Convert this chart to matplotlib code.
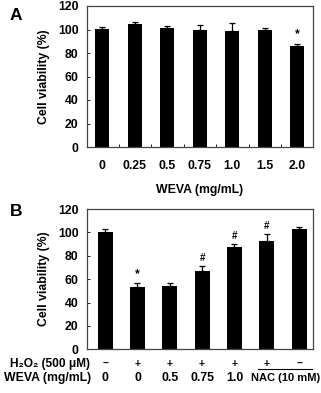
import matplotlib
matplotlib.use("Agg")
import matplotlib.pyplot as plt
from matplotlib.transforms import blended_transform_factory
import numpy as np

plt.rcParams['font.family'] = ['Liberation Sans', 'DejaVu Sans']
plt.rcParams['font.weight'] = 'bold'
plt.rcParams['mathtext.fontset'] = 'custom'
plt.rcParams['mathtext.rm'] = 'Liberation Sans:bold'
plt.rcParams['mathtext.default'] = 'rm'

# Panel A data
a_labels = ["0", "0.25", "0.5", "0.75", "1.0", "1.5", "2.0"]
a_values = [100.2, 105.0, 101.3, 99.8, 99.0, 99.3, 86.0]
a_errors = [1.7, 1.4, 2.0, 4.0, 6.3, 2.0, 2.0]
a_marks = ["", "", "", "", "", "", "*"]

# Panel B data
b_values = [100.6, 53.5, 54.4, 67.3, 87.8, 92.9, 102.6]
b_errors = [2.0, 3.0, 2.0, 4.2, 2.0, 5.7, 1.7]
b_marks = ["", "*", "", "#", "#", "#", ""]
b_h2o2 = ["\u2013", "+", "+", "+", "+", "+", "\u2013"]
b_weva = ["0", "0", "0.5", "0.75", "1.0"]
b_nac = "NAC (10 mM)"

yticks = [0, 20, 40, 60, 80, 100, 120]

FS = 8.8
W, H = 321, 393
fig = plt.figure(figsize=(W / 100, H / 100), dpi=100)

def px_axes(left, top, right, bottom):
    return fig.add_axes([left / W, 1 - bottom / H, (right - left) / W, (bottom - top) / H])

def style(ax):
    ax.set_ylim(0, 120)
    ax.set_yticks(yticks)
    ax.set_yticklabels([str(t) for t in yticks], fontsize=FS, fontweight='bold')
    for s in ax.spines.values():
        s.set_color('#444444')
        s.set_linewidth(0.9)
    ax.tick_params(axis='y', direction='in', length=2, width=0.6, pad=6)
    ax.set_ylabel("Cell viability (%)", fontsize=FS, fontweight='bold', labelpad=6)

# Panel A
axA = px_axes(87, 6, 313, 147)
xa = np.arange(len(a_values))
axA.bar(xa, a_values, width=0.43, color='black')
axA.errorbar(xa, a_values, yerr=[np.zeros(len(a_errors)), a_errors], fmt='none',
             ecolor='black', elinewidth=0.9, capsize=2, capthick=0.9)
for x, v, e, m in zip(xa, a_values, a_errors, a_marks):
    if m:
        axA.text(x, v + e + 3, m, ha='center', va='bottom', fontsize=FS, fontweight='bold')
axA.set_xlim(-0.47, 6.48)
axA.set_xticks(xa)
axA.set_xticklabels(a_labels, fontsize=FS, fontweight='bold')
axA.set_xticks(xa[:-1] + 0.5, minor=True)
axA.tick_params(axis='x', which='major', length=0, pad=9)
axA.tick_params(axis='x', which='minor', direction='in', length=2, width=0.6)
axA.set_xlabel("WEVA (mg/mL)", fontsize=FS, fontweight='bold', labelpad=9)
style(axA)
fig.text(10 / W, 1 - 15 / H, "A", fontsize=12.5, fontweight='bold', ha='left', va='center')

# Panel B
axB = px_axes(87, 209, 313, 349.3)
xb = np.arange(len(b_values))
axB.bar(xb, b_values, width=0.46, color='black')
axB.errorbar(xb, b_values, yerr=[np.zeros(len(b_errors)), b_errors], fmt='none',
             ecolor='black', elinewidth=0.9, capsize=2, capthick=0.9)
for x, v, e, m in zip(xb, b_values, b_errors, b_marks):
    if m:
        fs = FS if m == "*" else 7
        axB.text(x, v + e + 2.5, m, ha='center', va='bottom', fontsize=fs, fontweight='bold')
axB.set_xlim(-0.56, 6.43)
axB.set_xticks([])
style(axB)
fig.text(10 / W, 1 - 211 / H, "B", fontsize=12.5, fontweight='bold', ha='left', va='center')

tr = blended_transform_factory(axB.transData, fig.transFigure)
y1 = 1 - 363.5 / H
y2 = 1 - 378 / H
fig.text(90 / W, y1, "H\u2082O\u2082 (500 \u03bcM)", fontsize=8.6, fontweight='bold', ha='right', va='center')
fig.text(91 / W, y2, "WEVA (mg/mL)", fontsize=FS, fontweight='bold', ha='right', va='center')
for x, s in zip(xb, b_h2o2):
    axB.text(x, y1, s, transform=tr, ha='center', va='center', fontsize=7.5, fontweight='bold', clip_on=False)
for x, s in zip(xb, b_weva):
    axB.text(x, y2, s, transform=tr, ha='center', va='center', fontsize=FS, fontweight='bold', clip_on=False)
axB.text(4.5, y2, b_nac, transform=tr, ha='left', va='center', fontsize=8.0, fontweight='bold', clip_on=False)
axB.plot([4.72, 6.4], [1 - 368.5 / H] * 2, transform=tr, color='black', lw=0.8, clip_on=False)

fig.savefig("out.png", dpi=100)
